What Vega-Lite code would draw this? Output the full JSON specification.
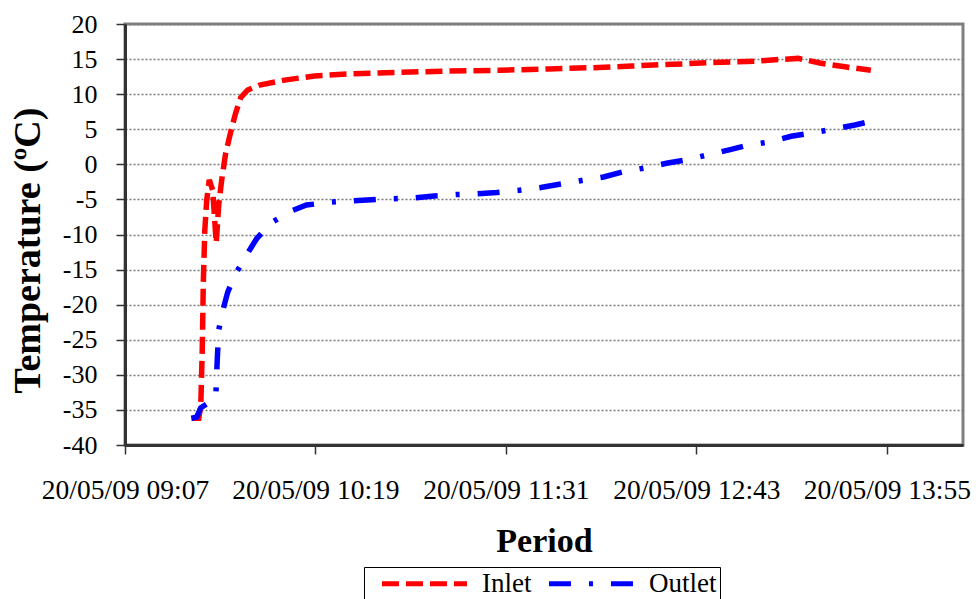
{
  "$schema": "https://vega.github.io/schema/vega-lite/v6.json",
  "width": 838,
  "height": 421,
  "autosize": "none",
  "padding": {"left": 125, "top": 24, "right": 13, "bottom": 154},
  "background": "white",
  "config": {
    "font": "Liberation Serif",
    "view": {"stroke": "#808080", "strokeWidth": 3},
    "axis": {
      "domainColor": "#333333",
      "domainWidth": 3,
      "tickColor": "#333333",
      "tickWidth": 1.5,
      "tickSize": 9,
      "labelFont": "Liberation Serif",
      "labelColor": "#000000",
      "titleFont": "Liberation Serif",
      "titleColor": "#000000",
      "titleFontWeight": "bold"
    },
    "legend": {
      "orient": "none",
      "legendX": 239,
      "legendY": 543,
      "direction": "horizontal",
      "strokeColor": "#000000",
      "padding": 3,
      "symbolType": "M-4,0H4",
      "symbolSize": 452,
      "symbolStrokeWidth": 5,
      "symbolOffset": 44,
      "labelFont": "Liberation Serif",
      "labelFontSize": 27,
      "labelColor": "#000000",
      "columnPadding": 2,
      "labelOffset": 44
    }
  },
  "data": {
    "values": [
      {"t": "2009-05-20T09:32:20", "series": "Inlet", "temp": -36.2},
      {"t": "2009-05-20T09:35:06", "series": "Inlet", "temp": -36.2},
      {"t": "2009-05-20T09:35:51", "series": "Inlet", "temp": -34.3},
      {"t": "2009-05-20T09:36:24", "series": "Inlet", "temp": -26.5},
      {"t": "2009-05-20T09:36:48", "series": "Inlet", "temp": -16.9},
      {"t": "2009-05-20T09:37:22", "series": "Inlet", "temp": -9.4},
      {"t": "2009-05-20T09:38:06", "series": "Inlet", "temp": -5.1},
      {"t": "2009-05-20T09:39:03", "series": "Inlet", "temp": -2.2},
      {"t": "2009-05-20T09:40:22", "series": "Inlet", "temp": -3.7},
      {"t": "2009-05-20T09:41:41", "series": "Inlet", "temp": -11.2},
      {"t": "2009-05-20T09:42:38", "series": "Inlet", "temp": -5.8},
      {"t": "2009-05-20T09:43:46", "series": "Inlet", "temp": -2.2},
      {"t": "2009-05-20T09:45:16", "series": "Inlet", "temp": 1.6},
      {"t": "2009-05-20T09:47:09", "series": "Inlet", "temp": 4.6},
      {"t": "2009-05-20T09:49:02", "series": "Inlet", "temp": 7.3},
      {"t": "2009-05-20T09:50:56", "series": "Inlet", "temp": 9.5},
      {"t": "2009-05-20T09:53:34", "series": "Inlet", "temp": 10.6},
      {"t": "2009-05-20T09:58:05", "series": "Inlet", "temp": 11.3},
      {"t": "2009-05-20T10:07:31", "series": "Inlet", "temp": 12.0},
      {"t": "2009-05-20T10:18:49", "series": "Inlet", "temp": 12.6},
      {"t": "2009-05-20T10:32:01", "series": "Inlet", "temp": 12.9},
      {"t": "2009-05-20T10:50:52", "series": "Inlet", "temp": 13.1},
      {"t": "2009-05-20T11:09:43", "series": "Inlet", "temp": 13.3},
      {"t": "2009-05-20T11:28:34", "series": "Inlet", "temp": 13.4},
      {"t": "2009-05-20T11:47:25", "series": "Inlet", "temp": 13.6},
      {"t": "2009-05-20T12:06:15", "series": "Inlet", "temp": 13.8},
      {"t": "2009-05-20T12:18:42", "series": "Inlet", "temp": 14.0},
      {"t": "2009-05-20T12:28:52", "series": "Inlet", "temp": 14.2},
      {"t": "2009-05-20T12:37:32", "series": "Inlet", "temp": 14.3},
      {"t": "2009-05-20T12:47:43", "series": "Inlet", "temp": 14.5},
      {"t": "2009-05-20T12:56:23", "series": "Inlet", "temp": 14.6},
      {"t": "2009-05-20T13:05:26", "series": "Inlet", "temp": 14.7},
      {"t": "2009-05-20T13:12:59", "series": "Inlet", "temp": 14.9},
      {"t": "2009-05-20T13:21:39", "series": "Inlet", "temp": 15.1},
      {"t": "2009-05-20T13:24:17", "series": "Inlet", "temp": 14.9},
      {"t": "2009-05-20T13:30:19", "series": "Inlet", "temp": 14.4},
      {"t": "2009-05-20T13:39:22", "series": "Inlet", "temp": 13.9},
      {"t": "2009-05-20T13:49:10", "series": "Inlet", "temp": 13.4},
      {"t": "2009-05-20T09:32:20", "series": "Outlet", "temp": -36.2},
      {"t": "2009-05-20T09:34:20", "series": "Outlet", "temp": -36.0},
      {"t": "2009-05-20T09:35:51", "series": "Outlet", "temp": -34.7},
      {"t": "2009-05-20T09:41:30", "series": "Outlet", "temp": -33.3},
      {"t": "2009-05-20T09:42:04", "series": "Outlet", "temp": -27.9},
      {"t": "2009-05-20T09:42:38", "series": "Outlet", "temp": -23.6},
      {"t": "2009-05-20T09:44:08", "series": "Outlet", "temp": -20.9},
      {"t": "2009-05-20T09:46:02", "series": "Outlet", "temp": -18.2},
      {"t": "2009-05-20T09:49:02", "series": "Outlet", "temp": -15.6},
      {"t": "2009-05-20T09:52:49", "series": "Outlet", "temp": -13.1},
      {"t": "2009-05-20T09:56:58", "series": "Outlet", "temp": -10.6},
      {"t": "2009-05-20T10:02:14", "series": "Outlet", "temp": -8.4},
      {"t": "2009-05-20T10:09:24", "series": "Outlet", "temp": -6.75},
      {"t": "2009-05-20T10:15:49", "series": "Outlet", "temp": -5.8},
      {"t": "2009-05-20T10:24:29", "series": "Outlet", "temp": -5.4},
      {"t": "2009-05-20T10:33:09", "series": "Outlet", "temp": -5.2},
      {"t": "2009-05-20T10:48:14", "series": "Outlet", "temp": -4.9},
      {"t": "2009-05-20T10:56:31", "series": "Outlet", "temp": -4.8},
      {"t": "2009-05-20T11:04:04", "series": "Outlet", "temp": -4.5},
      {"t": "2009-05-20T11:12:21", "series": "Outlet", "temp": -4.3},
      {"t": "2009-05-20T11:20:16", "series": "Outlet", "temp": -4.2},
      {"t": "2009-05-20T11:27:48", "series": "Outlet", "temp": -4.0},
      {"t": "2009-05-20T11:36:06", "series": "Outlet", "temp": -3.7},
      {"t": "2009-05-20T11:44:23", "series": "Outlet", "temp": -3.3},
      {"t": "2009-05-20T11:51:56", "series": "Outlet", "temp": -2.8},
      {"t": "2009-05-20T11:59:51", "series": "Outlet", "temp": -2.3},
      {"t": "2009-05-20T12:08:08", "series": "Outlet", "temp": -1.8},
      {"t": "2009-05-20T12:15:41", "series": "Outlet", "temp": -1.05},
      {"t": "2009-05-20T12:23:58", "series": "Outlet", "temp": -0.5},
      {"t": "2009-05-20T12:31:53", "series": "Outlet", "temp": 0.15},
      {"t": "2009-05-20T12:39:03", "series": "Outlet", "temp": 0.6},
      {"t": "2009-05-20T12:46:58", "series": "Outlet", "temp": 1.3},
      {"t": "2009-05-20T12:56:01", "series": "Outlet", "temp": 2.1},
      {"t": "2009-05-20T13:02:48", "series": "Outlet", "temp": 2.75},
      {"t": "2009-05-20T13:11:05", "series": "Outlet", "temp": 3.2},
      {"t": "2009-05-20T13:19:01", "series": "Outlet", "temp": 4.0},
      {"t": "2009-05-20T13:25:25", "series": "Outlet", "temp": 4.4},
      {"t": "2009-05-20T13:34:50", "series": "Outlet", "temp": 5.0},
      {"t": "2009-05-20T13:43:08", "series": "Outlet", "temp": 5.6},
      {"t": "2009-05-20T13:49:55", "series": "Outlet", "temp": 6.2}
    ]
  },
  "mark": {"type": "line", "strokeWidth": 5.5, "clip": true},
  "encoding": {
    "x": {
      "field": "t",
      "type": "temporal",
      "scale": {
        "domain": [
          {"year": 2009, "month": 5, "date": 20, "hours": 9, "minutes": 7, "seconds": 12},
          {"year": 2009, "month": 5, "date": 20, "hours": 14, "minutes": 24, "seconds": 0}
        ]
      },
      "axis": {
        "title": "Period",
        "values": [
          {"year": 2009, "month": 5, "date": 20, "hours": 9, "minutes": 7, "seconds": 12},
          {"year": 2009, "month": 5, "date": 20, "hours": 10, "minutes": 19, "seconds": 12},
          {"year": 2009, "month": 5, "date": 20, "hours": 11, "minutes": 31, "seconds": 12},
          {"year": 2009, "month": 5, "date": 20, "hours": 12, "minutes": 43, "seconds": 12},
          {"year": 2009, "month": 5, "date": 20, "hours": 13, "minutes": 55, "seconds": 12}
        ],
        "format": "%d/%m/%y %H:%M",
        "grid": false,
        "labelFontSize": 27.5,
        "labelPadding": 22,
        "labelOverlap": false,
        "labelFlush": false,
        "titleFontSize": 34,
        "titlePadding": 21
      }
    },
    "y": {
      "field": "temp",
      "type": "quantitative",
      "scale": {"domain": [-40, 20], "nice": false},
      "axis": {
        "title": "Temperature (ºC)",
        "values": [-40, -35, -30, -25, -20, -15, -10, -5, 0, 5, 10, 15, 20],
        "labelExpr": "datum.value < 0 ? '-' + abs(datum.value) : '' + datum.value",
        "grid": true,
        "gridColor": "#7a7a7a",
        "gridDash": [2, 2],
        "gridWidth": 1.5,
        "labelFontSize": 26,
        "labelPadding": 19,
        "labelOverlap": false,
        "titleFontSize": 38,
        "titlePadding": 15,
        "titleY": 226
      }
    },
    "color": {
      "field": "series",
      "type": "nominal",
      "scale": {"domain": ["Inlet", "Outlet"], "range": ["#ff0000", "#0000ff"]},
      "legend": {"title": null}
    },
    "strokeDash": {
      "field": "series",
      "type": "nominal",
      "scale": {"domain": ["Inlet", "Outlet"], "range": [[17, 7], [22, 18, 4, 18]]},
      "legend": {"title": null}
    }
  }
}
